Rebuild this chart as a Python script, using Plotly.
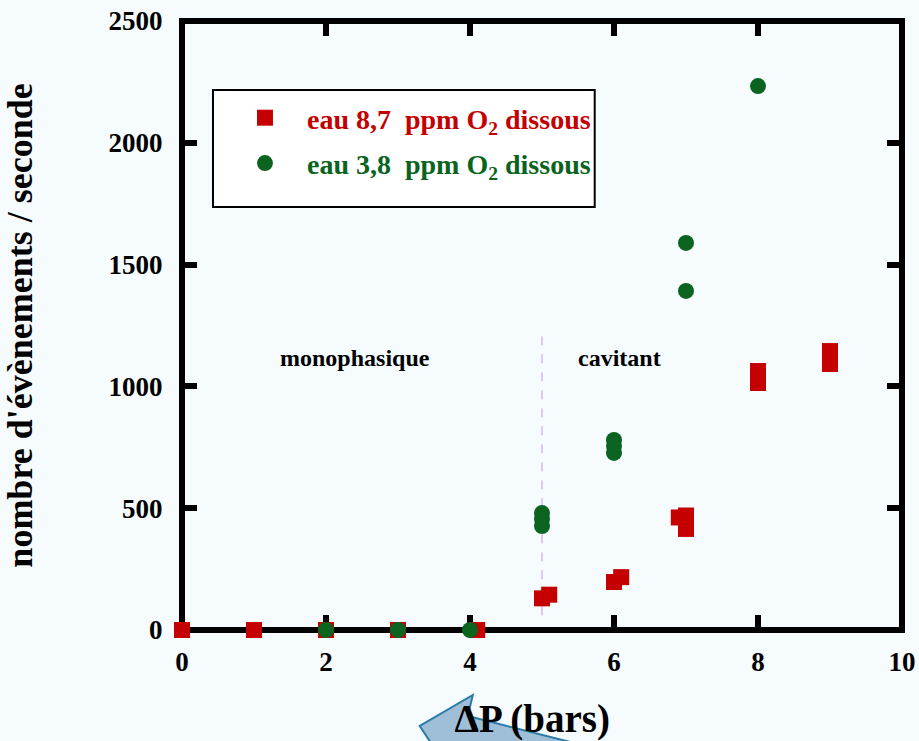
import plotly.graph_objects as go

# ---- data ----
red_x = [0, 1, 2, 3, 4.1, 5, 5.1, 6, 6.1, 6.9, 7, 7, 8, 8, 9, 9]
red_y = [0, 0, 0, 0, 0, 130, 145, 197, 217, 462, 470, 415, 1063, 1014, 1145, 1092]
green_x = [2, 3, 4, 5, 5, 5, 6, 6, 6, 7, 7, 8]
green_y = [0, 0, 0, 480, 456, 427, 780, 755, 727, 1589, 1392, 2233]
red_name = "eau 8,7&nbsp; ppm O<sub>2</sub> dissous"
green_name = "eau 3,8&nbsp; ppm O<sub>2</sub> dissous"
x_ticks = [0, 2, 4, 6, 8, 10]
y_ticks = [0, 500, 1000, 1500, 2000, 2500]
x_title = "ΔP (bars)&nbsp;&nbsp;"
y_title = "nombre d'évènements / seconde"
region_labels = ["monophasique", "cavitant"]
region_x = [2.4, 6.08]
region_y = [1117, 1117]
boundary_x = 5
boundary_y = [60, 1225]

RED = "#c40000"
GREEN = "#0a6420"
BG = "#f6fbfd"
FONT = "Liberation Serif"

W, H = 919, 741
L, R, T, B = 182, 902.5, 21, 630  # plot area in px


def px2paper(px, py):
    return (px - L) / (R - L), (B - py) / (B - T)


fig = go.Figure()
fig.add_trace(go.Scatter(
    x=red_x, y=red_y, mode="markers", name=f'<span style="color:{RED}">{red_name}</span>',
    marker=dict(symbol="square", size=16, color=RED, line=dict(width=0)),
    cliponaxis=False, legendgroup="a",
))
fig.add_trace(go.Scatter(
    x=green_x, y=green_y, mode="markers", name=f'<span style="color:{GREEN}">{green_name}</span>',
    marker=dict(symbol="circle", size=16, color=GREEN, line=dict(width=0)),
    cliponaxis=False, legendgroup="b",
))

# boundary dashed line
fig.add_shape(type="line", xref="x", yref="y", x0=boundary_x, x1=boundary_x,
              y0=boundary_y[0], y1=boundary_y[1],
              line=dict(color="#c09ada", width=1, dash="dash"), layer="below")

for txt, xx, yy in zip(region_labels, region_x, region_y):
    fig.add_annotation(x=xx, y=yy, xref="x", yref="y", text=txt, showarrow=False,
                       font=dict(family=FONT, size=24, color="black", weight="bold"))

# plot frame (thick box)
fig.add_shape(type="rect", xref="paper", yref="paper", x0=0, y0=0, x1=1, y1=1,
              line=dict(color="black", width=6), fillcolor="rgba(0,0,0,0)", layer="below")

# legend frame
bx0, by0 = px2paper(213, 207)
bx1, by1 = px2paper(595, 90)
fig.add_shape(type="rect", xref="paper", yref="paper", x0=bx0, y0=by0, x1=bx1, y1=by1,
              fillcolor="white", line=dict(color="black", width=2), layer="below")

# decorative block arrow (bottom)
pts = [(420, 726), (473, 695), (468, 716), (610, 752), (437, 752)]
pp = [px2paper(*p) for p in pts]
path = "M " + " L ".join(f"{a:.4f},{b:.4f}" for a, b in pp) + " Z"
fig.add_shape(type="path", xref="paper", yref="paper", path=path,
              fillcolor="rgba(150,186,212,0.92)", line=dict(color="#2b7ba6", width=2),
              layer="above")

axis_common = dict(
    showline=True, linewidth=1, linecolor="rgba(0,0,0,0)", mirror="ticks",
    ticks="inside", ticklen=15, tickwidth=6, tickcolor="black",
    showgrid=False, zeroline=False, layer="below traces", automargin=False,
    tickfont=dict(family=FONT, size=27, color="black", weight="bold"),
)

fig.update_xaxes(
    range=[0, 10], tickvals=x_ticks, ticktext=[str(v) for v in x_ticks],
    ticklabelstandoff=8,
    title=dict(text=x_title, font=dict(family=FONT, size=39, color="black", weight="bold"), standoff=34),
    **axis_common,
)
fig.update_yaxes(
    range=[0, 2500], tickvals=y_ticks, ticktext=[str(v) for v in y_ticks],
    ticklabelstandoff=13,
    title=dict(text=y_title, font=dict(family=FONT, size=36, color="black", weight="bold"), standoff=66),
    **axis_common,
)

lx, ly = px2paper(223, 93)
fig.update_layout(
    width=W, height=H,
    margin=dict(l=L, r=W - R, t=T, b=H - B, pad=0, autoexpand=False),
    paper_bgcolor=BG, plot_bgcolor=BG,
    showlegend=True,
    legend=dict(x=lx, y=ly, xanchor="left", yanchor="top",
                bgcolor="rgba(0,0,0,0)", borderwidth=0,
                font=dict(family=FONT, size=28, weight="bold"),
                itemwidth=74, tracegroupgap=6),
)

fig.write_html("out.html")
